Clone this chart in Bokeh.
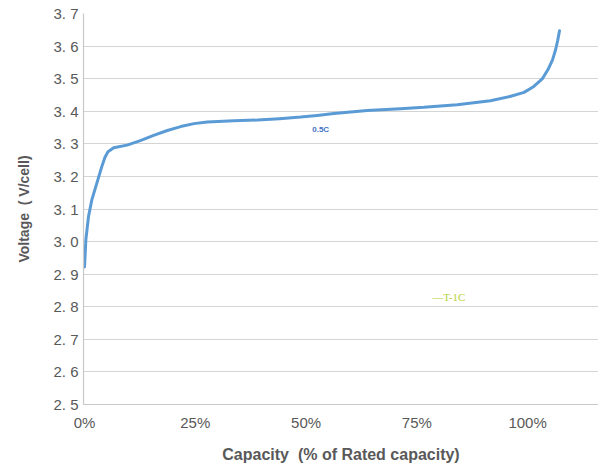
from bokeh.plotting import figure
from bokeh.models import ColumnDataSource, Range1d, FixedTicker, Label
from bokeh.embed import file_html
from bokeh.resources import INLINE

# ---- data ----
capacity_pct = [0.0, 0.3, 0.9, 1.65, 2.8, 3.9, 4.6, 5.3, 6.6, 9.6, 12.6, 15.6, 18.7,
                21.7, 24.7, 27.7, 33.7, 39.0, 44.0, 48.8, 52.5, 56.3, 63.8, 71.3,
                76.6, 84.1, 91.6, 96.2, 99.2, 101.4, 103.3, 104.6, 105.6, 106.3,
                106.8, 107.2]
voltage = [2.922, 3.005, 3.077, 3.128, 3.18, 3.23, 3.258, 3.276, 3.288, 3.296, 3.310, 3.326, 3.341,
           3.353, 3.362, 3.367, 3.371, 3.373, 3.377, 3.382, 3.387, 3.393, 3.402, 3.408,
           3.412, 3.420, 3.432, 3.446, 3.458, 3.476, 3.499, 3.528, 3.557, 3.588,
           3.618, 3.647]

x_ticks = [0, 25, 50, 75, 100]
x_tick_labels = ["0%", "25%", "50%", "75%", "100%"]
y_ticks = [2.5, 2.6, 2.7, 2.8, 2.9, 3.0, 3.1, 3.2, 3.3, 3.4, 3.5, 3.6, 3.7]
y_tick_labels = ["2.\u00a05", "2.\u00a06", "2.\u00a07", "2.\u00a08", "2.\u00a09",
                 "3.\u00a00", "3.\u00a01", "3.\u00a02", "3.\u00a03", "3.\u00a04",
                 "3.\u00a05", "3.\u00a06", "3.\u00a07"]
x_title = "Capacity\u00a0\u00a0(% of Rated capacity)"
y_title = "Voltage\u00a0\u00a0(\u00a0V/cell)"
curve_label = "0.5C"
legend_label = "\u2014T-1C"

src = ColumnDataSource(dict(x=capacity_pct, y=voltage))

p = figure(width=598, height=466, output_backend="svg", toolbar_location=None,
           x_range=Range1d(-0.23, 116.0), y_range=Range1d(2.5, 3.7),
           min_border_left=83, min_border_right=0, min_border_top=13, min_border_bottom=62)
p.outline_line_color = None
p.background_fill_color = "white"
p.border_fill_color = "white"

p.xgrid.grid_line_color = None
p.ygrid.grid_line_color = "#d4d4d4"
p.ygrid.grid_line_width = 1.2

p.line("x", "y", source=src, line_color="#5B9BD5", line_width=3, line_join="round", line_cap="round")

# axes
p.xaxis.ticker = FixedTicker(ticks=x_ticks)
p.xaxis.major_label_overrides = {t: l for t, l in zip(x_ticks, x_tick_labels)}
p.yaxis.ticker = FixedTicker(ticks=y_ticks)
p.yaxis.major_label_overrides = {t: l for t, l in zip(y_ticks, y_tick_labels)}

for ax in (p.xaxis[0], p.yaxis[0]):
    ax.axis_line_color = "#c8c8c8"
    ax.axis_line_width = 1.2
    ax.major_tick_line_color = None
    ax.minor_tick_line_color = None
    ax.major_tick_out = 0
    ax.major_tick_in = 0
    ax.minor_tick_out = 0
    ax.minor_tick_in = 0
    ax.major_label_text_font = "Liberation Sans"
    ax.major_label_text_font_size = "15px"
    ax.major_label_text_color = "#595959"
    ax.axis_label_text_font = "Liberation Sans"
    ax.axis_label_text_font_style = "bold"
    ax.axis_label_text_color = "#595959"

p.xaxis.major_label_standoff = 9
p.yaxis.major_label_standoff = 5
p.xaxis.axis_label = x_title
p.xaxis.axis_label_text_font_size = "16px"
p.xaxis.axis_label_standoff = 12
p.yaxis.axis_label = y_title
p.yaxis.axis_label_text_font_size = "14px"
p.yaxis.axis_label_standoff = 18

p.add_layout(Label(x=53.3, y=3.343, text=curve_label, text_font="Liberation Sans",
                   text_font_style="bold", text_font_size="8px", text_color="#4472C4",
                   text_align="center", text_baseline="middle"))
p.add_layout(Label(x=82.2, y=2.831, text=legend_label, text_font="Liberation Serif",
                   text_font_size="11px", text_color="#B5D335",
                   text_align="center", text_baseline="middle"))

open("out.html", "w").write(file_html(p, INLINE))
